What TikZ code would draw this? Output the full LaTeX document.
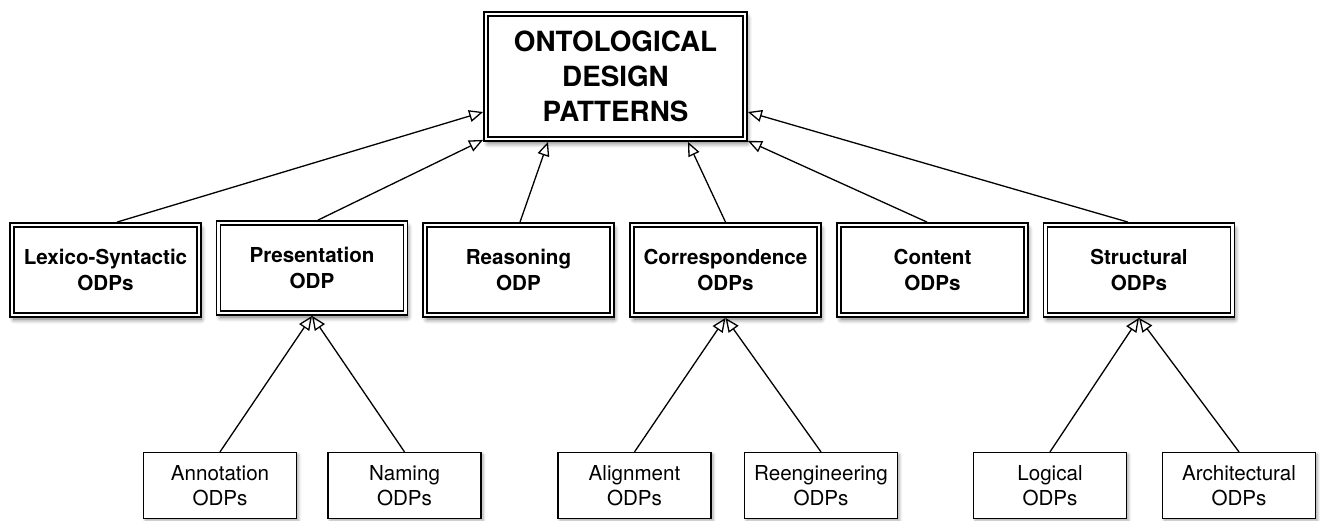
\documentclass[tikz,border=0pt]{standalone}
\usepackage{fontspec}
\setmainfont{TeX Gyre Heros}
\usetikzlibrary{arrows.meta,shadows.blur}
\begin{document}
\begin{tikzpicture}[x=1pt,y=-1pt,
  dbox/.style={draw=black, line width=1.6pt, double=white, double distance=2.6pt,
    fill=white, outer sep=2.9pt, inner sep=0pt, align=center,
    blur shadow={shadow xshift=2pt, shadow yshift=-4pt, shadow blur steps=8,
      shadow blur radius=5pt, shadow opacity=60}},
  topbox/.style={dbox, minimum width=259pt, minimum height=125pt,
    font=\fontsize{27.8}{35}\selectfont\bfseries},
  midbox/.style={dbox, minimum width=187pt, minimum height=90pt,
    font=\fontsize{20.6}{26}\selectfont\bfseries},
  leafbox/.style={draw=black, line width=1.4pt, fill=white, outer sep=0.7pt,
    inner sep=0pt, align=center, minimum width=153pt, minimum height=65.8pt,
    font=\fontsize{20.6}{25}\selectfont,
    blur shadow={shadow xshift=2pt, shadow yshift=-2pt, shadow blur steps=6,
      shadow blur radius=3pt, shadow opacity=35}},
  gen/.style={line width=1.3pt, -{Triangle[open, length=14pt, width=12pt]}}
]
\useasboundingbox (0,0) rectangle (1320,521);

% root
\node[topbox] (odp) at (615.5,76.5) {ONTOLOGICAL\\DESIGN\\PATTERNS};

% pattern families
\node[midbox] (lex) at (105.5,270) {Lexico-Syntactic\\ODPs};
\node[midbox] (pre) at (312,268)   {Presentation\\ODP};
\node[midbox] (rea) at (518.5,270) {Reasoning\\ODP};
\node[midbox] (cor) at (725.5,270) {Correspondence\\ODPs};
\node[midbox] (con) at (932.5,270) {Content\\ODPs};
\node[midbox] (str) at (1139,270)  {Structural\\ODPs};

% leaves
\node[leafbox] (ann) at (220,485.5)   {Annotation\\ODPs};
\node[leafbox] (nam) at (404.5,485.5) {Naming\\ODPs};
\node[leafbox] (ali) at (634.5,485.5) {Alignment\\ODPs};
\node[leafbox] (ree) at (821,485.5)   {Reengineering\\ODPs};
\node[leafbox] (log) at (1050,485.5)  {Logical\\ODPs};
\node[leafbox] (arc) at (1239,485.5)  {Architectural\\ODPs};

% generalisation to the root
\draw[gen] ([xshift=11.5pt]lex.north) -- ([yshift=-35.5pt]odp.west);
\draw[gen] ([xshift=6pt]pre.north)    -- ([yshift=2pt]odp.south west);
\draw[gen] ([xshift=1.5pt]rea.north)  -- ([xshift=-67.5pt]odp.south);
\draw[gen] (cor.north)                -- ([xshift=72.5pt]odp.south);
\draw[gen] ([xshift=-5.5pt]con.north) -- ([yshift=1pt]odp.south east);
\draw[gen] ([xshift=-11pt]str.north)  -- ([yshift=-35.5pt]odp.east);

% generalisation to the families
\draw[gen] (ann.north) -- (pre.south);
\draw[gen] (nam.north) -- (pre.south);
\draw[gen] (ali.north) -- (cor.south);
\draw[gen] (ree.north) -- (cor.south);
\draw[gen] (log.north) -- (str.south);
\draw[gen] (arc.north) -- (str.south);
\end{tikzpicture}
\end{document}
